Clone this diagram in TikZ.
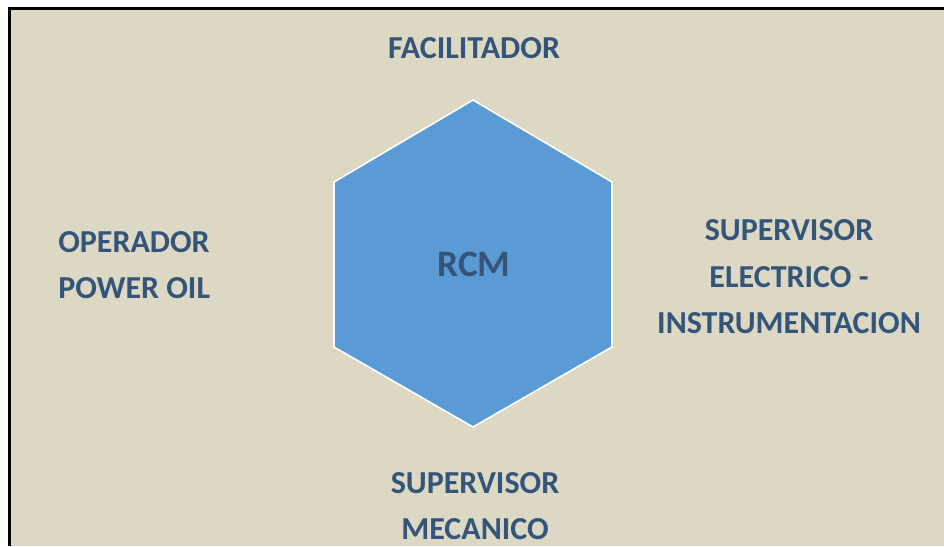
\documentclass[tikz,border=0pt]{standalone}
\usepackage{fontspec}
\setmainfont{Carlito}
\definecolor{bgbeige}{HTML}{DDD8C3}
\definecolor{hexblue}{HTML}{5B9BD5}
\definecolor{txtblue}{HTML}{34557A}
\begin{document}
\begin{tikzpicture}[x=0.75pt,y=-0.75pt,
  lbl/.style={inner sep=0pt, anchor=base, text=txtblue, font=\fontsize{24}{28}\selectfont\bfseries},
  lblw/.style={lbl, anchor=base west}]
\useasboundingbox (0,0) rectangle (944,546);
\fill[white] (0,0) rectangle (944,546);
\fill[bgbeige] (9.5,8.5) rectangle (944,546);
\draw[line width=2.25pt] (9.5,546) -- (9.5,8.5) -- (944,8.5);
% hexagon
\draw[fill=hexblue, draw=white, line width=1.2pt, line join=miter]
  (473,100) -- (612,182) -- (612,347) -- (473,427) -- (334,347) -- (334,182) -- cycle;
\node[lbl, font=\fontsize{28}{32}\selectfont\bfseries] (rcm) at (474,276) {RCM};
\node[lbl] (fac) at (474,58) {FACILITADOR};
\node[lblw] (op1) at (58,252) {OPERADOR};
\node[lblw] (op2) at (58,298) {POWER OIL};
\node[lbl] (se1) at (789,240) {SUPERVISOR};
\node[lbl] (se2) at (789,287) {ELECTRICO -};
\node[lbl] (se3) at (789,333) {INSTRUMENTACION};
\node[lbl] (sm1) at (475,493) {SUPERVISOR};
\node[lbl] (sm2) at (475,539) {MECANICO};
\end{tikzpicture}
\end{document}
